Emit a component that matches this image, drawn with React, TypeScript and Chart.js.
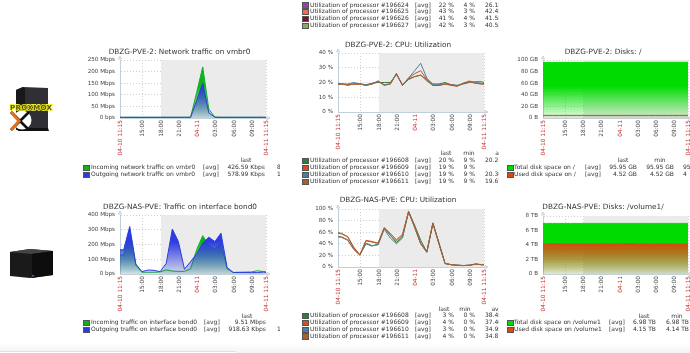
import React, { useEffect, useRef } from "react";
import { Chart, registerables } from "chart.js";

Chart.register(...registerables);

const hours = [0, 0.6, 1.6, 2.6, 3.6, 4.6, 5.6, 6.6, 7.6, 8.6, 9.6, 10.6, 11.6, 12.6, 13.6, 14.6, 15.6, 16.6, 17.6, 18.6, 19.6, 20.6, 21.6, 22.6, 23.6, 24];
const tickHours = [0, 3.75, 6.75, 9.75, 12.75, 15.75, 18.75, 21.75, 24];
const tickLabels = ["04-10 11:15", "15:00", "18:00", "21:00", "04-11", "03:00", "06:00", "09:00", "04-11 11:15"];
const workStart = 6.75;

const netIn = [3, 3, 3, 3, 3, 3, 3, 3, 3, 3, 3, 3, 3, 110, 220, 38, 4, 3, 3, 3, 3, 3, 3, 3, 3, 3];
const netOut = [3, 3, 3, 3, 3, 3, 3, 3, 3, 3, 3, 3, 3, 75, 150, 22, 3, 3, 3, 3, 3, 3, 3, 3, 3, 3];
const pveCpu0 = [19, 19, 18.5, 19, 19, 18.5, 19.5, 20, 20, 20, 25.5, 18.5, 22, 24, 25, 22, 19, 19, 20, 18.5, 18, 19, 20, 20.5, 20.5, 20];
const pveCpu1 = [19, 19, 18, 19, 19, 18, 19, 21, 18.5, 19, 26, 18, 23, 26, 28, 22, 18, 18, 19, 18, 17.5, 19.5, 20.5, 19.5, 19, 19];
const pveCpu2 = [19, 19, 19, 20, 19, 18.5, 19, 20.5, 18.5, 19, 26, 18.5, 23, 28, 33, 23, 18.5, 18.5, 19, 18.5, 18, 19.5, 21, 20, 19.5, 19];
const pveCpu3 = [19, 19, 18.5, 19, 19, 18, 19, 21, 18, 19, 26, 18, 22.5, 24, 25, 21, 18, 18, 19, 18.5, 17.5, 19.5, 20.5, 19.5, 19, 19];
const pveDiskTotal = [95.95, 95.95, 95.95, 95.95, 95.95, 95.95, 95.95, 95.95, 95.95, 95.95, 95.95, 95.95, 95.95, 95.95, 95.95, 95.95, 95.95, 95.95, 95.95, 95.95, 95.95, 95.95, 95.95, 95.95, 95.95, 95.95];
const pveDiskUsed = [4.52, 4.52, 4.52, 4.52, 4.52, 4.52, 4.52, 4.52, 4.52, 4.52, 4.52, 4.52, 4.52, 4.52, 4.52, 4.52, 4.52, 4.52, 4.52, 4.52, 4.52, 4.52, 4.52, 4.52, 4.52, 4.52];
const bondIn = [130, 130, 305, 60, 12, 12, 12, 14, 28, 20, 18, 18, 35, 165, 260, 195, 170, 215, 35, 10, 12, 13, 14, 22, 16, 14];
const bondOut = [164, 164, 322, 68, 16, 27, 25, 16, 72, 305, 220, 32, 84, 136, 210, 250, 220, 277, 45, 11, 10, 10, 9, 10, 13, 12];
const nasCpu0 = [59, 58, 52, 34, 21, 40, 36, 40, 67, 55, 42, 52, 96, 72, 46, 26, 75, 42, 6, 4, 3, 2.5, 3, 5, 4, 4];
const nasCpu1 = [58, 57, 52, 33, 21, 46, 44, 41, 68, 58, 47, 56, 95, 69, 41, 26, 76, 40, 6, 4, 3, 2.5, 3, 5, 4, 4];
const nasCpu2 = [53, 52, 47, 31, 21, 41, 37, 38, 65, 50, 40, 50, 95, 68, 40, 26, 75, 40, 6, 4, 3, 2.5, 3, 5, 4, 4];
const nasCpu3 = [52, 51, 46, 30, 20, 45, 43, 41, 67, 55, 45, 55, 95, 69, 40, 25, 76, 40, 6, 4, 3, 2.5, 3, 5, 4, 4];
const nasDiskTotal = [6.98, 6.98, 6.98, 6.98, 6.98, 6.98, 6.98, 6.98, 6.98, 6.98, 6.98, 6.98, 6.98, 6.98, 6.98, 6.98, 6.98, 6.98, 6.98, 6.98, 6.98, 6.98, 6.98, 6.98, 6.98, 6.98];
const nasDiskUsed = [4.15, 4.15, 4.2, 4.15, 4.15, 4.15, 4.15, 4.15, 4.15, 4.15, 4.15, 4.15, 4.15, 4.15, 4.2, 4.2, 4.15, 4.15, 4.15, 4.15, 4.15, 4.15, 4.15, 4.15, 4.15, 4.15];

const C = {
  green: "#10b020", blue: "#2c3ce0", diskGreen: "#00dc00", diskRed: "#d84a10",
  cpu0: "#2e7d3a", cpu1: "#e04a20", cpu2: "#4a80a8", cpu3: "#a8602c",
};

const FONT = "'DejaVu Sans'";
const LEGEND_PX = 6;

type Series = { values: number[]; color: string; line?: string; fill?: boolean };
type Panel = {
  title: string; center: number; left: number; top: number;
  plotLeft: number; plotRight: number; plotTop: number; plotBottom: number;
  yMax: number; yStep: number; yFmt: (v: number) => string; series: Series[];
};

const mbps = (v: number) => (v === 0 ? "0 bps" : v + " Mbps");
const pct = (v: number) => v + " %";
const gb = (v: number) => (v === 0 ? "0 B" : v + " GB");
const tb = (v: number) => (v === 0 ? "0 B" : v + " TB");

const panels: Panel[] = [
  { title: "DBZG-PVE-2: Network traffic on vmbr0", center: 179.5, left: 60, top: 47, plotLeft: 120, plotRight: 266, plotTop: 60, plotBottom: 118, yMax: 250, yStep: 50, yFmt: mbps,
    series: [{ values: netIn, color: C.green, fill: true }, { values: netOut, color: C.blue, fill: true }] },
  { title: "DBZG-PVE-2: CPU: Utilization", center: 398, left: 300, top: 40, plotLeft: 338, plotRight: 484, plotTop: 53, plotBottom: 112, yMax: 40, yStep: 10, yFmt: pct,
    series: [{ values: pveCpu0, color: C.cpu0 }, { values: pveCpu1, color: C.cpu1 }, { values: pveCpu2, color: C.cpu2 }, { values: pveCpu3, color: C.cpu3 }] },
  { title: "DBZG-PVE-2: Disks: /", center: 603, left: 510, top: 47, plotLeft: 543, plotRight: 688, plotTop: 60, plotBottom: 118, yMax: 100, yStep: 20, yFmt: gb,
    series: [{ values: pveDiskTotal, color: C.diskGreen, fill: true }, { values: pveDiskUsed, color: C.diskRed, line: "#b8501e", fill: true }] },
  { title: "DBZG-NAS-PVE: Traffic on interface bond0", center: 180, left: 60, top: 202, plotLeft: 120, plotRight: 266, plotTop: 215, plotBottom: 274, yMax: 400, yStep: 100, yFmt: mbps,
    series: [{ values: bondIn, color: C.green, fill: true }, { values: bondOut, color: C.blue, fill: true }] },
  { title: "DBZG-NAS-PVE: CPU: Utilization", center: 398, left: 300, top: 195, plotLeft: 338, plotRight: 484, plotTop: 209, plotBottom: 267, yMax: 100, yStep: 20, yFmt: pct,
    series: [{ values: nasCpu0, color: C.cpu0 }, { values: nasCpu1, color: C.cpu1 }, { values: nasCpu2, color: C.cpu2 }, { values: nasCpu3, color: C.cpu3 }] },
  { title: "DBZG-NAS-PVE: Disks: /volume1/", center: 603, left: 510, top: 202, plotLeft: 543, plotRight: 688, plotTop: 216, plotBottom: 274, yMax: 8, yStep: 2, yFmt: tb,
    series: [{ values: nasDiskTotal, color: C.diskGreen, fill: true }, { values: nasDiskUsed, color: C.diskRed, fill: true }] },
];

function hexA(hex: string, a: number) {
  const n = parseInt(hex.slice(1), 16);
  return `rgba(${n >> 16},${(n >> 8) & 255},${n & 255},${a})`;
}

const bandPlugin = {
  id: "band",
  afterLayout(chart: any, _args: any, opts: any) {
    const t = chart.titleBlock;
    if (t && opts.center != null) {
      t.left = 0;
      t.right = 2 * opts.center;
    }
  },
  beforeDatasetsDraw(chart: any) {
    const { ctx, chartArea: a, scales } = chart;
    const x0 = scales.x.getPixelForValue(workStart);
    ctx.save();
    ctx.fillStyle = "#ebebeb";
    ctx.fillRect(x0, a.top, a.right - x0, a.bottom - a.top);
    ctx.restore();
  },
  afterDraw(chart: any) {
    const { ctx, chartArea: a } = chart;
    ctx.save();
    ctx.strokeStyle = "#c0d0dc";
    ctx.lineWidth = 1;
    ctx.beginPath();
    ctx.moveTo(a.left - 1.5, a.top - 1); ctx.lineTo(a.left, a.top - 4); ctx.lineTo(a.left + 1.5, a.top - 1); ctx.closePath();
    ctx.moveTo(a.right + 1, a.bottom - 1.5); ctx.lineTo(a.right + 4, a.bottom); ctx.lineTo(a.right + 1, a.bottom + 1.5); ctx.closePath();
    ctx.stroke();
    ctx.restore();
  },
};

const RIGHT_ROOM = 8;
const X_AXIS = 42;

function makeChart(canvas: HTMLCanvasElement, p: Panel) {
  return new Chart(canvas, {
    type: "line",
    plugins: [bandPlugin],
    data: {
      datasets: p.series.map((s, i) => ({
        data: hours.map((h, k) => ({ x: h, y: s.values[k] })),
        borderColor: s.line ?? s.color,
        borderWidth: 1,
        pointRadius: 0,
        tension: 0,
        order: p.series.length - i,
        clip: false,
        fill: s.fill ? "origin" : false,
        backgroundColor: (ctx: any) => {
          const a = ctx.chart.chartArea;
          if (!a) return s.color;
          const g = ctx.chart.ctx.createLinearGradient(0, a.top, 0, a.bottom);
          g.addColorStop(0, hexA(s.color, 1));
          g.addColorStop(0.45, hexA(s.color, 1));
          g.addColorStop(1, hexA(s.color, 0.1));
          return g;
        },
      })),
    },
    options: {
      animation: false,
      responsive: false,
      layout: { padding: { top: 0, left: 0, bottom: 0, right: RIGHT_ROOM } },
      plugins: {
        band: { center: p.center - p.left },
        legend: { display: false },
        tooltip: { enabled: false },
        title: {
          display: true,
          text: p.title,
          color: "#333",
          font: { family: FONT, size: 7.3, weight: "normal", lineHeight: 10 / 7.3 },
          padding: { top: 0, bottom: p.plotTop - p.top - 10 },
        },
      },
      scales: {
        x: {
          type: "linear",
          min: 0,
          max: 24,
          afterBuildTicks: (s: any) => { s.ticks = tickHours.map((v) => ({ value: v })); },
          afterFit: (s: any) => { s.height = X_AXIS; s.paddingLeft = 0; s.paddingRight = 0; },
          ticks: {
            autoSkip: false,
            minRotation: 90,
            maxRotation: 90,
            padding: 2,
            font: { family: FONT, size: 5.8 },
            color: (c: any) => (tickLabels[c.index]?.startsWith("04-") ? "#c83030" : "#444"),
            callback: (_v: any, i: number) => tickLabels[i],
          },
          grid: {
            drawTicks: false,
            color: (c: any) => (c.tick && c.tick.value === 12.75 ? "#999" : "#d0d0d0"),
          },
          border: { color: "#c0d0dc", dash: [1, 2], dashOffset: 0 },
        },
        y: {
          min: 0,
          max: p.yMax,
          afterFit: (s: any) => { s.width = p.plotLeft - p.left; },
          ticks: {
            stepSize: p.yStep,
            padding: 5,
            font: { family: FONT, size: 5.6 },
            color: "#444",
            callback: (v: any) => p.yFmt(Number(v)),
          },
          grid: { drawTicks: false, color: "#d0d0d0" },
          border: { color: "#c0d0dc", dash: [1, 2] },
        },
      },
    } as any,
  });
}

function Canvas({ p }: { p: Panel }) {
  const ref = useRef<HTMLCanvasElement>(null);
  useEffect(() => {
    const c = makeChart(ref.current!, p);
    return () => c.destroy();
  }, [p]);
  const w = p.plotRight + RIGHT_ROOM - p.left;
  const h = p.plotBottom - p.top + X_AXIS;
  return <canvas ref={ref} width={w} height={h} style={{ position: "absolute", left: p.left, top: p.top, width: w, height: h }} />;
}

type Row = [string, string, string, string, string];
type Legend = {
  left: number; clip: number; swatch: number; text: number; avgX: number;
  cols: number[]; head: string[]; headX: number[]; headY: number | null; y: number[]; rows: Row[];
};

const pveCpuRows: Row[] = [
  [C.cpu0, "Utilization of processor #196608", "20 %", "9 %", "20.27"],
  [C.cpu1, "Utilization of processor #196609", "19 %", "9 %", ""],
  [C.cpu2, "Utilization of processor #196610", "19 %", "9 %", "20.36"],
  [C.cpu3, "Utilization of processor #196611", "19 %", "9 %", "19.67"],
];
const nasCpuRows: Row[] = [
  [C.cpu0, "Utilization of processor #196608", "3 %", "0 %", "38.45"],
  [C.cpu1, "Utilization of processor #196609", "4 %", "0 %", "37.40"],
  [C.cpu2, "Utilization of processor #196610", "3 %", "0 %", "34.95"],
  [C.cpu3, "Utilization of processor #196611", "4 %", "0 %", "34.81"],
];
const topRows: Row[] = [
  ["#8e44ad", "Utilization of processor #196624", "22 %", "4 %", "26.15"],
  ["#f0704a", "Utilization of processor #196625", "43 %", "3 %", "42.45"],
  ["#7a1030", "Utilization of processor #196626", "41 %", "4 %", "41.55"],
  ["#8aa860", "Utilization of processor #196627", "42 %", "3 %", "40.55"],
];

const legends: Legend[] = [
  { left: 0, clip: 499, swatch: 302, text: 310, avgX: 415, cols: [454, 475, 485], head: [], headX: [], headY: null, y: [4.5, 11.3, 18.2, 25], rows: topRows },
  { left: 0, clip: 280, swatch: 83, text: 91, avgX: 203, cols: [265, 277, 0], head: ["last"], headX: [246], headY: 160, y: [167, 174],
    rows: [[C.green, "Incoming network traffic on vmbr0", "426.59 Kbps", "8", ""], [C.blue, "Outgoing network traffic on vmbr0", "578.99 Kbps", "10", ""]] },
  { left: 0, clip: 499, swatch: 302, text: 310, avgX: 415, cols: [454, 475, 485], head: ["last", "min", "a"], headX: [446, 469, 497], headY: 153, y: [160, 167, 174, 181], rows: pveCpuRows },
  { left: 0, clip: 690, swatch: 507, text: 514, avgX: 585, cols: [637, 674, 683], head: ["last", "min"], headX: [623, 660], headY: 160, y: [167, 174],
    rows: [[C.diskGreen, "Total disk space on /", "95.95 GB", "95.95 GB", "95"], [C.diskRed, "Used disk space on /", "4.52 GB", "4.52 GB", "4"]] },
  { left: 0, clip: 280, swatch: 83, text: 91, avgX: 204, cols: [266, 277, 0], head: ["last"], headX: [247], headY: 315.5, y: [322, 329],
    rows: [[C.green, "Incoming traffic on interface bond0", "9.51 Mbps", "", ""], [C.blue, "Outgoing traffic on interface bond0", "918.63 Kbps", "1", ""]] },
  { left: 0, clip: 499, swatch: 302, text: 310, avgX: 415, cols: [454, 475, 485], head: ["last", "min", "av"], headX: [444, 465, 495], headY: 308.5, y: [315, 322, 329, 335.7], rows: nasCpuRows },
  { left: 0, clip: 690, swatch: 507, text: 514, avgX: 609, cols: [656, 689, 0], head: ["last", "min"], headX: [644, 677], headY: 315.5, y: [322, 329],
    rows: [[C.diskGreen, "Total disk space on /volume1", "6.98 TB", "6.98 TB", ""], [C.diskRed, "Used disk space on /volume1", "4.15 TB", "4.14 TB", ""]] },
];

const txt = (x: number, y: number, s: string, align: "l" | "r" | "c" = "l"): React.CSSProperties => ({
  position: "absolute",
  left: x,
  top: y - 4,
  lineHeight: "8px",
  whiteSpace: "pre",
  transform: align === "r" ? "translateX(-100%)" : align === "c" ? "translateX(-50%)" : undefined,
});

function LegendBlock({ l }: { l: Legend }) {
  return (
    <div style={{ position: "absolute", left: 0, top: 0, width: l.clip, height: 353, overflow: "hidden", fontFamily: FONT, fontSize: LEGEND_PX, color: "#333", pointerEvents: "none" }}>
      {l.head.map((h, i) => (
        <span key={h} style={txt(l.headX[i], l.headY!, h, "c")}>{h}</span>
      ))}
      {l.rows.map((r, i) => (
        <React.Fragment key={r[1]}>
          <span style={{ position: "absolute", left: l.swatch, top: l.y[i] - 2.5, width: 4.5, height: 4.5, background: r[0], border: "0.5px solid #555" }} />
          <span style={txt(l.text, l.y[i], r[1])}>{r[1]}</span>
          <span style={txt(l.avgX, l.y[i], "[avg]")}>[avg]</span>
          <span style={txt(l.cols[0], l.y[i], r[2], "r")}>{r[2]}</span>
          {r[3] && <span style={txt(l.cols[1], l.y[i], r[3], r[3].length > 2 ? "r" : l.clip === 280 ? "l" : "r")}>{r[3]}</span>}
          {r[4] && l.cols[2] > 0 && <span style={txt(l.cols[2], l.y[i], r[4])}>{r[4]}</span>}
        </React.Fragment>
      ))}
    </div>
  );
}

function Icons() {
  return (
    <svg width={70} height={353} style={{ position: "absolute", left: 0, top: 0 }}>
      <polygon points="16,90 23,87 48,88 48,130 16,130" fill="#303034" />
      <polygon points="16,90 23,87 25,88 25,130 16,130" fill="#18181b" />
      <polygon points="17,128 48,128 49,131 18,131" fill="#111" />
      <circle cx={22} cy={120} r={9.5} fill="#fff" />
      <path d="M11 112 L29 130 M29 112 L11 130" stroke="#111" strokeWidth={2.6} />
      <path d="M11 112 L19 121 L11 130" stroke="#e0701c" strokeWidth={3} fill="none" />
      <text x={31} y={109.5} fontFamily="'DejaVu Sans'" fontSize={7} fontWeight="bold" textAnchor="middle" fill="#5a5a10" stroke="#f4f020" strokeWidth={1.6} paintOrder="stroke" textLength={42}>PROXMOX</text>
      <polygon points="10,252 30,249 53,251 53,275 30,278 10,276" fill="#1a1a1a" />
      <polygon points="10,252 30,249 53,251 32,254" fill="#444" />
      <polygon points="32,254 53,251 53,275 32,278" fill="#0d0d0d" />
      <rect x={32} y={275} width={2} height={1.5} fill="#3a6ad0" />
    </svg>
  );
}

export default function App() {
  useEffect(() => {
    document.body.style.margin = "0";
  }, []);
  return (
    <div style={{ position: "fixed", left: 0, top: 0, width: 690, height: 353, overflow: "hidden", background: "#fff" }}>
      <div style={{ position: "absolute", left: 0, top: 343, width: 690, height: 10, background: "linear-gradient(#fff, #f3f3f3)" }} />
      <div style={{ position: "absolute", left: 0, top: 351, width: 236, height: 2, background: "#fff", borderTop: "1px solid #e0e0e0", borderTopRightRadius: 2, boxSizing: "border-box" }} />
      <div style={{ position: "absolute", inset: 0, filter: "blur(0.45px)" }}>
        <Icons />
        {panels.map((p) => <Canvas key={p.title} p={p} />)}
        {legends.map((l, i) => <LegendBlock key={i} l={l} />)}
      </div>
    </div>
  );
}
